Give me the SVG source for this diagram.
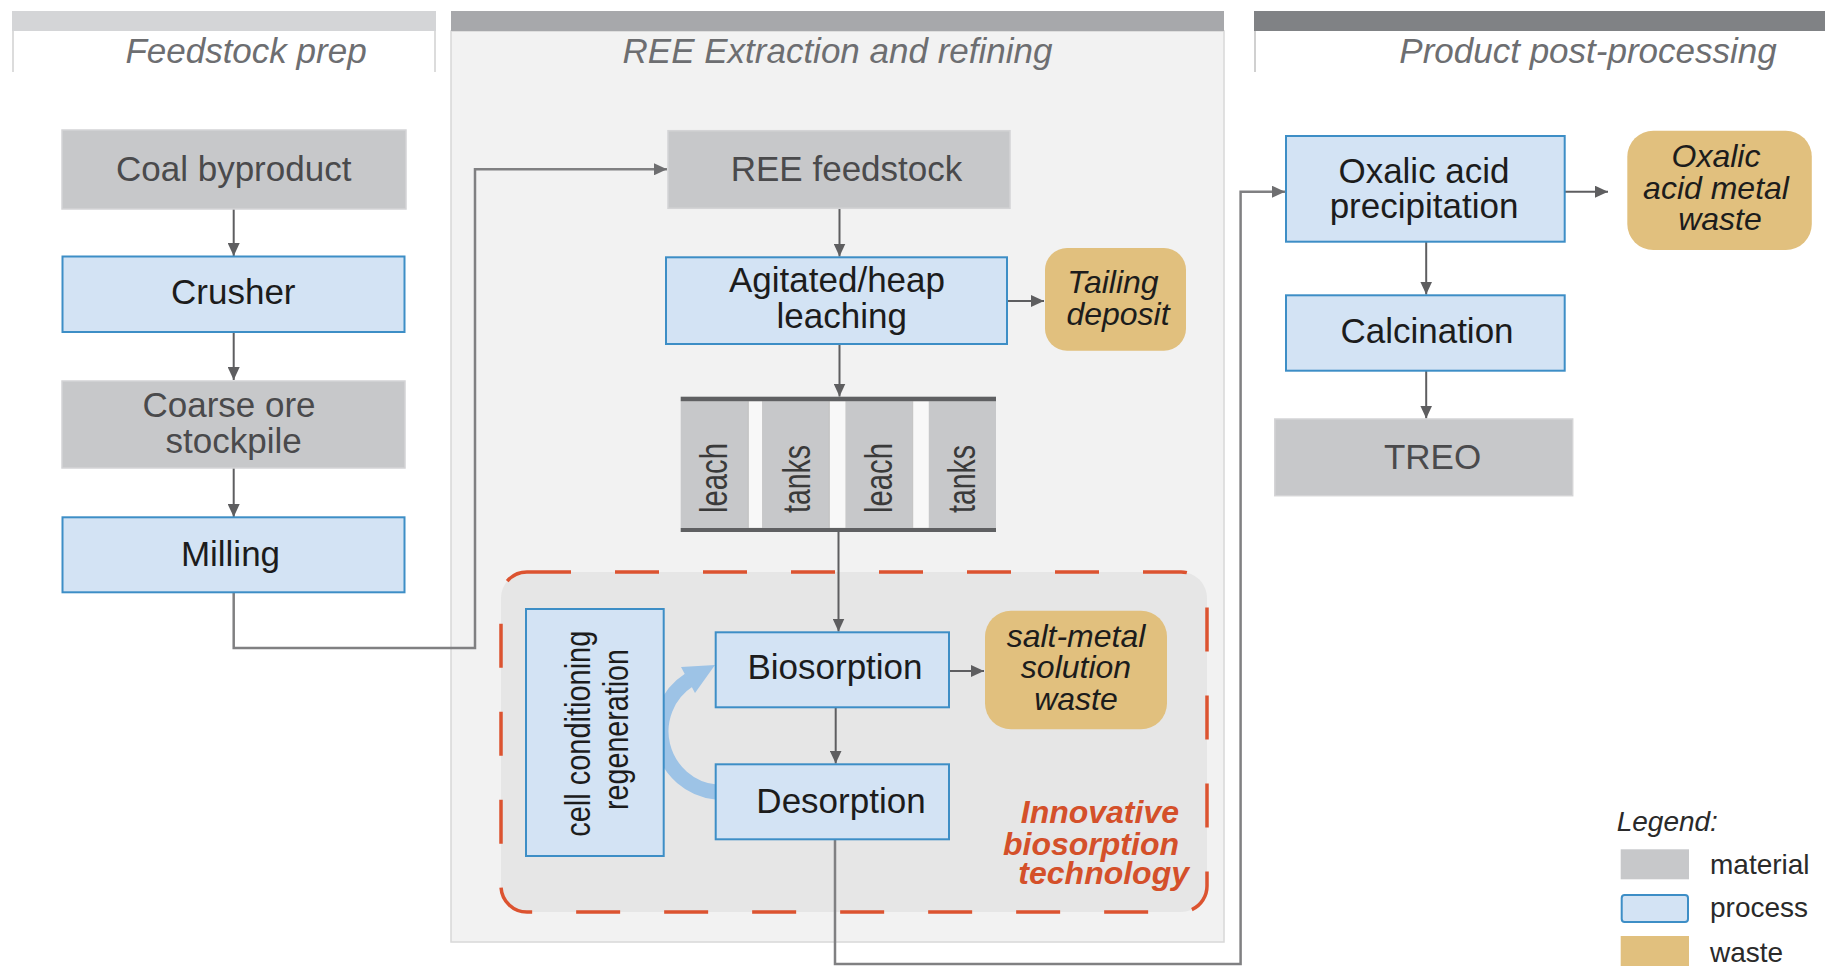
<svg xmlns="http://www.w3.org/2000/svg" width="1825" height="966" viewBox="0 0 1825 966">
  <style>
    .hdr{font-family:"Liberation Sans",Arial,sans-serif;font-style:italic;font-size:35px;fill:#6d6e71;text-anchor:middle}
    .t{font-family:"Liberation Sans",Arial,sans-serif;font-size:35px;text-anchor:middle}
    .pt{fill:#1c1c1c}
    .mt{fill:#4a4a4c}
    .wt{font-family:"Liberation Sans",Arial,sans-serif;font-style:italic;font-size:32px;fill:#1c1c1c;text-anchor:middle}
    .rt{font-family:"Liberation Sans",Arial,sans-serif;font-size:38px;fill:#3a3a3a;text-anchor:middle}
    .inn{font-family:"Liberation Sans",Arial,sans-serif;font-style:italic;font-weight:bold;font-size:32px;fill:#d4502a;text-anchor:end}
    .lg{font-family:"Liberation Sans",Arial,sans-serif;font-size:28px;fill:#2a2a2a}
    .proc{fill:#d3e3f4;stroke:#3d8ec6;stroke-width:2}
    .mat{fill:#c7c8ca;stroke:#d4d4d6;stroke-width:1.5}
    .waste{fill:#e1c07e}
    .ln{fill:none;stroke:#5e5e60;stroke-width:2}
    .lnl{fill:none;stroke:#808082;stroke-width:2.5}
  </style>
  <defs>
    <marker id="ah" markerUnits="userSpaceOnUse" markerWidth="13" markerHeight="12" viewBox="0 0 13 12" refX="13" refY="6" orient="auto">
      <path d="M0,0 L13,6 L0,12 z" fill="#5e5e60"/>
    </marker>
    <marker id="ahl" markerUnits="userSpaceOnUse" markerWidth="13" markerHeight="12" viewBox="0 0 13 12" refX="13" refY="6" orient="auto">
      <path d="M0,0 L13,6 L0,12 z" fill="#6e6e70"/>
    </marker>
  </defs>

  <rect width="1825" height="966" fill="#ffffff"/>

  <!-- section headers / panels -->
  <g id="section-feedstock">
    <rect x="12" y="11" width="424" height="20" fill="#d4d5d7"/>
    <line x1="13" y1="31" x2="13" y2="72" stroke="#dcdcdc" stroke-width="2"/>
    <line x1="435" y1="31" x2="435" y2="72" stroke="#dcdcdc" stroke-width="2"/>
    <text class="hdr" x="246" y="63">Feedstock prep</text>
  </g>
  <g id="section-ree">
    <rect x="451" y="31" width="773" height="911" fill="#f2f2f2" stroke="#d8d8d8" stroke-width="1.5"/>
    <rect x="451" y="11" width="773" height="20" fill="#a7a8ab"/>
    <text class="hdr" x="837.5" y="63">REE Extraction and refining</text>
  </g>
  <g id="section-product">
    <rect x="1254" y="11" width="571" height="20" fill="#808285"/>
    <line x1="1255" y1="31" x2="1255" y2="72" stroke="#d0d0d0" stroke-width="2"/>
    <text class="hdr" x="1588" y="63">Product post-processing</text>
  </g>

  <!-- innovative biosorption technology region -->
  <g id="biosorption-region">
    <rect x="501" y="572" width="706" height="340" rx="26" fill="#e6e6e6" stroke="#dc5330" stroke-width="3.5" stroke-dasharray="44 44"/>
    <text class="inn" x="1179" y="823">Innovative</text>
    <text class="inn" x="1179" y="855">biosorption</text>
    <text class="inn" x="1189" y="883.5">technology</text>
  </g>

  <!-- connectors -->
  <g id="connectors">
    <path class="ln" d="M233.7,209 V256" marker-end="url(#ah)"/>
    <path class="ln" d="M233.7,332 V380" marker-end="url(#ah)"/>
    <path class="ln" d="M233.7,468 V517" marker-end="url(#ah)"/>
    <path class="lnl" d="M233.7,592 V648 H475 V169.3 H667" marker-end="url(#ahl)"/>
    <path class="ln" d="M839.5,208.3 V256.5" marker-end="url(#ah)"/>
    <path class="ln" d="M1007,301 H1044" marker-end="url(#ah)"/>
    <path class="ln" d="M839.5,344 V396.5" marker-end="url(#ah)"/>
    <path class="ln" d="M838.5,532 V631.5" marker-end="url(#ah)"/>
    <path class="ln" d="M949,671 H984" marker-end="url(#ah)"/>
    <path class="ln" d="M835.7,707.3 V763.5" marker-end="url(#ah)"/>
    <path class="lnl" d="M835,839.3 V964 H1240.6 V191.7 H1285" marker-end="url(#ahl)"/>
    <path class="ln" d="M1564.7,191.7 H1608" marker-end="url(#ah)"/>
    <path class="ln" d="M1426.2,241.7 V294.5" marker-end="url(#ah)"/>
    <path class="ln" d="M1426.2,370.7 V418.5" marker-end="url(#ah)"/>
    <!-- regeneration loop arrow -->
    <path d="M716,792 A61 61 0 0 1 689,680" fill="none" stroke="#9dc3e6" stroke-width="15"/>
    <polygon points="715,665 681,667 695,693" fill="#9dc3e6"/>
  </g>

  <!-- Feedstock prep nodes -->
  <g id="coal-byproduct">
    <rect class="mat" x="62" y="130" width="344" height="79"/>
    <text class="t mt" x="233.7" y="181">Coal byproduct</text>
  </g>
  <g id="crusher">
    <rect class="proc" x="62.5" y="256.5" width="342" height="75.5"/>
    <text class="t pt" x="233.3" y="304">Crusher</text>
  </g>
  <g id="coarse-ore-stockpile">
    <rect class="mat" x="62" y="381" width="343" height="87"/>
    <text class="t mt" x="229" y="416.7">Coarse ore</text>
    <text class="t mt" x="233.7" y="452.7">stockpile</text>
  </g>
  <g id="milling">
    <rect class="proc" x="62.5" y="517.3" width="342" height="75"/>
    <text class="t pt" x="230.5" y="565.7">Milling</text>
  </g>

  <!-- REE extraction nodes -->
  <g id="ree-feedstock">
    <rect class="mat" x="668" y="130.7" width="342" height="77.6"/>
    <text class="t mt" x="846.5" y="181">REE feedstock</text>
  </g>
  <g id="agitated-heap-leaching">
    <rect class="proc" x="666" y="257.3" width="341" height="86.7"/>
    <text class="t pt" x="837" y="292">Agitated/heap</text>
    <text class="t pt" x="841.7" y="328">leaching</text>
  </g>
  <g id="tailing-deposit">
    <rect class="waste" x="1045" y="248" width="141" height="102.7" rx="22"/>
    <text class="wt" x="1113" y="293">Tailing</text>
    <text class="wt" x="1118" y="325">deposit</text>
  </g>
  <g id="leach-tanks">
    <rect x="680.7" y="400.7" width="67.6" height="127.6" fill="#c7c8ca"/>
    <rect x="748.3" y="400.7" width="14.4" height="127.6" fill="#f8f8f8" stroke="#c0c0c0" stroke-width="1"/>
    <rect x="762.7" y="400.7" width="66.6" height="127.6" fill="#c7c8ca"/>
    <rect x="829.3" y="400.7" width="16.7" height="127.6" fill="#f8f8f8" stroke="#c0c0c0" stroke-width="1"/>
    <rect x="846" y="400.7" width="66.7" height="127.6" fill="#c7c8ca"/>
    <rect x="912.7" y="400.7" width="16.6" height="127.6" fill="#f8f8f8" stroke="#c0c0c0" stroke-width="1"/>
    <rect x="929.3" y="400.7" width="66.7" height="127.6" fill="#c7c8ca"/>
    <rect x="680.7" y="396.7" width="315.3" height="4.5" fill="#5f6062"/>
    <rect x="680.7" y="528" width="315.3" height="4" fill="#5f6062"/>
    <text class="rt" transform="translate(727,478) rotate(-90)" textLength="70" lengthAdjust="spacingAndGlyphs">leach</text>
    <text class="rt" transform="translate(810,479) rotate(-90)" textLength="68" lengthAdjust="spacingAndGlyphs">tanks</text>
    <text class="rt" transform="translate(892,478) rotate(-90)" textLength="70" lengthAdjust="spacingAndGlyphs">leach</text>
    <text class="rt" transform="translate(975,479) rotate(-90)" textLength="68" lengthAdjust="spacingAndGlyphs">tanks</text>
  </g>
  <g id="cell-conditioning-regeneration">
    <rect class="proc" x="526" y="609" width="137.7" height="247"/>
    <text class="t pt" font-size="38" transform="translate(589.5,733.7) rotate(-90)" textLength="206" lengthAdjust="spacingAndGlyphs">cell conditioning</text>
    <text class="t pt" font-size="38" transform="translate(628,729.5) rotate(-90)" textLength="161" lengthAdjust="spacingAndGlyphs">regeneration</text>
  </g>
  <g id="biosorption">
    <rect class="proc" x="715.7" y="632.3" width="233.3" height="75"/>
    <text class="t pt" x="835" y="679">Biosorption</text>
  </g>
  <g id="salt-metal-solution-waste">
    <rect class="waste" x="985" y="610.7" width="182" height="118.6" rx="26"/>
    <text class="wt" x="1076" y="646.7">salt-metal</text>
    <text class="wt" x="1076" y="678.3">solution</text>
    <text class="wt" x="1076" y="710">waste</text>
  </g>
  <g id="desorption">
    <rect class="proc" x="715.7" y="764.3" width="233.3" height="75"/>
    <text class="t pt" x="841" y="812.7">Desorption</text>
  </g>

  <!-- Product post-processing nodes -->
  <g id="oxalic-acid-precipitation">
    <rect class="proc" x="1286" y="136" width="278.7" height="105.7"/>
    <text class="t pt" x="1424" y="182.7">Oxalic acid</text>
    <text class="t pt" x="1424" y="218.3">precipitation</text>
  </g>
  <g id="oxalic-acid-metal-waste">
    <rect class="waste" x="1627.3" y="130.7" width="184.5" height="119.3" rx="26"/>
    <text class="wt" x="1716" y="166.7">Oxalic</text>
    <text class="wt" x="1716" y="199.3">acid metal</text>
    <text class="wt" x="1720" y="230">waste</text>
  </g>
  <g id="calcination">
    <rect class="proc" x="1286" y="295.3" width="278.7" height="75.4"/>
    <text class="t pt" x="1427" y="343.3">Calcination</text>
  </g>
  <g id="treo">
    <rect class="mat" x="1274.8" y="419" width="297.9" height="76.7"/>
    <text class="t mt" x="1432.6" y="469.3">TREO</text>
  </g>

  <!-- legend -->
  <g id="legend">
    <text class="lg" x="1616.7" y="830.7" font-style="italic">Legend:</text>
    <rect x="1620.7" y="849.3" width="68.3" height="30" fill="#c7c8ca"/>
    <rect x="1621.7" y="895" width="66.3" height="27" rx="3" fill="#d3e3f4" stroke="#3d8ec6" stroke-width="2"/>
    <rect x="1620.7" y="936" width="68.3" height="30" fill="#e1c07e"/>
    <text class="lg" x="1710" y="874">material</text>
    <text class="lg" x="1710" y="917.3">process</text>
    <text class="lg" x="1710" y="961.7">waste</text>
  </g>
</svg>
